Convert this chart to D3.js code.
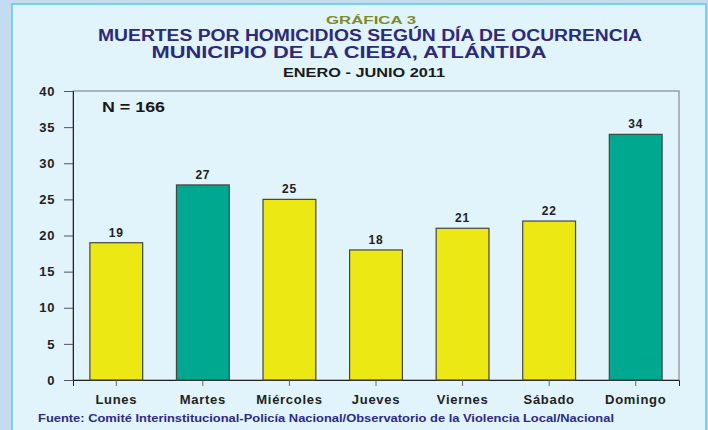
<!DOCTYPE html>
<html>
<head>
<meta charset="utf-8">
<script src="https://cdn.jsdelivr.net/npm/d3@7"></script>
<style>
  body { margin: 0; background: #c4dcf0; }
  svg { display: block; font-family: 'Liberation Sans', Arial, sans-serif; }
</style>
</head>
<body>
<svg width="708" height="430"></svg>
<script>
const dias = ['Lunes', 'Martes', 'Miércoles', 'Jueves', 'Viernes', 'Sábado', 'Domingo']
const muertes = [19, 27, 25, 18, 21, 22, 34]
const destacados = ['Martes', 'Domingo']
const yTicks = [0, 5, 10, 15, 20, 25, 30, 35, 40]

const data = dias.map((d, i) => ({ dia: d, valor: muertes[i] }))

const svg = d3.select('svg')
const width = +svg.attr('width')
const height = +svg.attr('height')

// panel
svg.append('rect')
    .attr('x', 12).attr('y', 4)
    .attr('width', 694).attr('height', 440)
    .attr('fill', '#e1f3fb')
    .attr('stroke', '#5cc6f0')
    .attr('stroke-width', 1.5)

const margin = { top: 91, right: 29, bottom: 50, left: 73 }
const innerWidth = width - margin.left - margin.right
const innerHeight = height - margin.top - margin.bottom

// the original lettering is wide, so stretch texts to the measured widths
const label = (x, y, txt, size, color, len, anchor) => svg.append('text')
    .attr('x', x).attr('y', y)
    .attr('text-anchor', anchor || 'middle')
    .attr('font-weight', 'bold').attr('font-size', size)
    .attr('fill', color)
    .attr('textLength', len).attr('lengthAdjust', 'spacingAndGlyphs')
    .text(txt)

label(371, 24, 'GRÁFICA 3', 11.5, '#7f8a2c', 90)
label(370, 41, 'MUERTES POR HOMICIDIOS SEGÚN DÍA DE OCURRENCIA', 16, '#2d2a78', 544)
label(349, 58, 'MUNICIPIO DE LA CIEBA, ATLÁNTIDA', 16, '#2d2a78', 395)
label(364, 77, 'ENERO - JUNIO 2011', 12.5, '#1a1a1a', 162)

const xScale = d3.scaleBand()
    .domain(dias)
    .range([0, innerWidth])
    .paddingInner(0.39)
    .paddingOuter(0.195)

const yScale = d3.scaleLinear()
    .domain([0, 40])
    .range([innerHeight, 0])

const g = svg.append('g')
    .attr('transform', `translate(${margin.left}, ${margin.top})`)

// frame
g.append('rect')
    .attr('width', innerWidth).attr('height', innerHeight)
    .attr('fill', 'none').attr('stroke', '#777').attr('stroke-width', 1)

const yAxis = g.append('g')
    .call(d3.axisLeft(yScale).tickValues(yTicks).tickSize(9).tickPadding(9))
yAxis.select('.domain').attr('stroke', '#222')
yAxis.selectAll('.tick line').attr('stroke', '#555')
yAxis.selectAll('text').attr('font-size', 13).attr('font-weight', 'bold')
    .attr('letter-spacing', 0.6)
    .attr('fill', '#222').attr('font-family', 'Liberation Sans, Arial, sans-serif')

const xAxis = g.append('g')
    .attr('transform', `translate(0, ${innerHeight})`)
    .call(d3.axisBottom(xScale).tickSize(6).tickPadding(9))
xAxis.select('.domain').attr('stroke', '#222')
xAxis.selectAll('.tick line').attr('stroke', '#666')
xAxis.selectAll('text').attr('font-size', 13).attr('font-weight', 'bold')
    .attr('letter-spacing', 0.7)
    .attr('fill', '#222').attr('font-family', 'Liberation Sans, Arial, sans-serif')

g.selectAll('rect.bar').data(data)
    .enter().append('rect')
        .attr('class', 'bar')
        .attr('x', d => xScale(d.dia))
        .attr('y', d => yScale(d.valor))
        .attr('width', xScale.bandwidth())
        .attr('height', d => innerHeight - yScale(d.valor))
        .attr('fill', d => destacados.includes(d.dia) ? '#00a88f' : '#ece814')
        .attr('stroke', '#444')
        .attr('stroke-width', 1.2)

g.selectAll('text.valor').data(data)
    .enter().append('text')
        .attr('class', 'valor')
        .attr('x', d => xScale(d.dia) + xScale.bandwidth() / 2)
        .attr('y', d => yScale(d.valor) - 6)
        .attr('text-anchor', 'middle')
        .attr('font-size', 12).attr('font-weight', 'bold').attr('fill', '#222')
        .attr('letter-spacing', 0.8)
        .text(d => d.valor)

label(102, 112, 'N = 166', 14, '#1a1a1a', 63, 'start')

label(38, 422, 'Fuente: Comité Interinstitucional-Policía Nacional/Observatorio de la Violencia Local/Nacional',
    11.5, '#2d2a8a', 576, 'start')
</script>
</body>
</html>
